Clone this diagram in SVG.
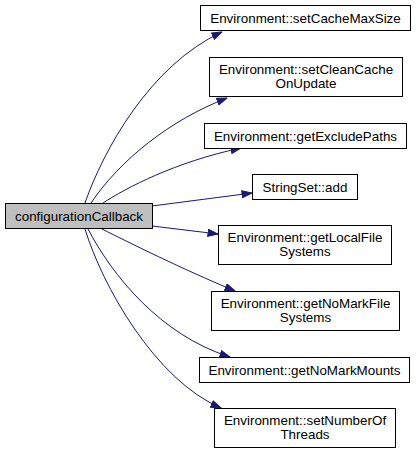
<svg xmlns="http://www.w3.org/2000/svg" width="416" height="454" viewBox="0 0 416 454">
<defs>
<style>
.node rect{fill:#ffffff;stroke:#000000;stroke-width:1}
.node.root rect{fill:#bfbfbf}
.node text{font-family:"Liberation Sans",Arial,Helvetica,sans-serif;font-size:13.4px;fill:#000000;text-anchor:middle}
.edges path{fill:none;stroke:#191970;stroke-width:1;marker-end:url(#arr)}
</style>
<marker id="arr" markerUnits="userSpaceOnUse" viewBox="0 0 11 8" refX="10.5" refY="4" markerWidth="11" markerHeight="8" orient="auto">
<path d="M0.5,0.5 L10.5,4 L0.5,7.5 Z" fill="#191970" stroke="#191970" stroke-width="1"/>
</marker>
</defs>
<rect width="416" height="454" fill="#ffffff"/>
<g class="edges" id="edges">
<path d="M85,203 C103,151 150,65 222,32"/>
<path d="M91,203 C120,160 170,120 227,98"/>
<path d="M103,203 C126,188 175,162 241,148"/>
<path d="M152,206 L252,193"/>
<path d="M152,226 L218,234"/>
<path d="M102,229 C130,243 180,268 235,291"/>
<path d="M88,229 C112,275 160,335 230,357"/>
<path d="M85,229 C102,285 155,380 221,408"/>
</g>
<g class="node root" id="node_configurationCallback">
<rect x="5.5" y="203.5" width="147" height="25"/>
<text x="79" y="220.5">configurationCallback</text>
</g>
<g class="node" id="node_setCacheMaxSize">
<rect x="200.5" y="5.5" width="210" height="25"/>
<text x="305.5" y="22.5">Environment::setCacheMaxSize</text>
</g>
<g class="node" id="node_setCleanCacheOnUpdate">
<rect x="209.5" y="57.5" width="193" height="39"/>
<text x="306" y="74">Environment::setCleanCache</text>
<text x="306" y="88">OnUpdate</text>
</g>
<g class="node" id="node_getExcludePaths">
<rect x="204.5" y="123.5" width="202" height="25"/>
<text x="305.5" y="140.5">Environment::getExcludePaths</text>
</g>
<g class="node" id="node_StringSet_add">
<rect x="252.5" y="174.5" width="105" height="25"/>
<text x="305" y="191.5">StringSet::add</text>
</g>
<g class="node" id="node_getLocalFileSystems">
<rect x="218.5" y="225.5" width="173" height="39"/>
<text x="305" y="242">Environment::getLocalFile</text>
<text x="305" y="256">Systems</text>
</g>
<g class="node" id="node_getNoMarkFileSystems">
<rect x="211.5" y="291.5" width="188" height="39"/>
<text x="305.5" y="308">Environment::getNoMarkFile</text>
<text x="305.5" y="322">Systems</text>
</g>
<g class="node" id="node_getNoMarkMounts">
<rect x="199.5" y="357.5" width="210" height="25"/>
<text x="304.5" y="374.5">Environment::getNoMarkMounts</text>
</g>
<g class="node" id="node_setNumberOfThreads">
<rect x="214.5" y="408.5" width="181" height="39"/>
<text x="305" y="425">Environment::setNumberOf</text>
<text x="305" y="439">Threads</text>
</g>
</svg>
